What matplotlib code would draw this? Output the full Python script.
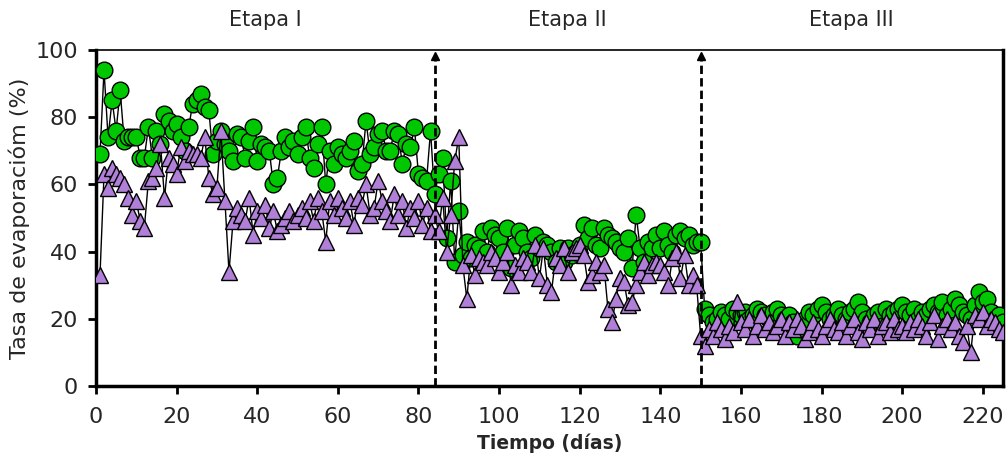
import numpy as np
import matplotlib
matplotlib.use("Agg")
import matplotlib.pyplot as plt

# daily evaporation rate (%), days 1..225
days = np.arange(1, 226)

green = [69, 94, 74, 85, 76, 88, 73, 74, 74, 74,
         68, 68, 77, 68, 76, 72, 81, 79, 76, 78,
         74, 70, 77, 84, 85, 87, 83, 82, 69, 73,
         76, 72, 70, 67, 75, 74, 68, 73, 77, 67,
         72, 71, 70, 60, 62, 70, 74, 71, 73, 69,
         74, 77, 68, 65, 72, 77, 60, 70, 66, 71,
         69, 68, 70, 73, 64, 66, 79, 69, 71, 75,
         76, 70, 70, 76, 75, 66, 72, 71, 77, 63,
         62, 61, 76, 57, 63, 68, 44, 61, 37, 52,
         39, 43, 38, 42, 41, 46, 40, 47, 45, 44,
         40, 47, 35, 42, 46, 44, 40, 38, 45, 41,
         43, 42, 40, 37, 41, 37, 41, 39, 40, 42,
         48, 44, 47, 42, 41, 47, 45, 44, 43, 41,
         40, 44, 35, 51, 41, 37, 43, 41, 45, 41,
         46, 42, 40, 45, 46, 44, 45, 42, 43, 43,
         23, 21, 19, 20, 22, 21, 20, 23, 22, 21,
         22, 20, 21, 23, 22, 21, 20, 22, 23, 21,
         20, 21, 19, 15, 17, 20, 22, 21, 23, 24,
         22, 20, 21, 23, 21, 20, 22, 23, 25, 22,
         20, 19, 21, 22, 18, 23, 21, 22, 23, 24,
         22, 21, 23, 20, 22, 21, 23, 24, 22, 25,
         21, 23, 26, 24, 22, 21, 20, 24, 28, 25,
         26, 22, 20, 21, 19]

purple = [33, 63, 59, 65, 63, 62, 60, 56, 51, 55,
          49, 47, 61, 62, 65, 72, 56, 68, 66, 63,
          71, 67, 70, 69, 69, 68, 74, 62, 57, 59,
          76, 55, 34, 49, 53, 51, 49, 56, 45, 52,
          50, 54, 47, 52, 46, 48, 50, 52, 49, 51,
          53, 50, 55, 49, 56, 52, 43, 55, 51, 56,
          53, 50, 55, 48, 56, 54, 60, 51, 53, 61,
          55, 52, 49, 57, 51, 55, 47, 53, 50, 55,
          48, 53, 46, 51, 46, 56, 40, 51, 67, 74,
          36, 26, 39, 33, 38, 37, 36, 40, 38, 34,
          37, 40, 30, 36, 34, 38, 37, 34, 42, 32,
          41, 30, 28, 38, 36, 41, 34, 40, 41, 42,
          39, 31, 33, 37, 34, 36, 23, 19, 26, 32,
          31, 24, 25, 30, 34, 37, 33, 36, 37, 36,
          34, 30, 38, 40, 32, 39, 30, 33, 30, 15,
          12, 17, 15, 19, 17, 14, 18, 16, 25, 19,
          17, 20, 15, 18, 21, 17, 19, 16, 18, 20,
          15, 19, 17, 20, 18, 14, 16, 19, 17, 15,
          18, 20, 17, 16, 19, 15, 18, 20, 16, 14,
          19, 17, 20, 15, 18, 19, 16, 20, 17, 18,
          16, 19, 17, 20, 18, 15, 19, 21, 14, 18,
          20, 17, 19, 15, 13, 18, 10, 21, 20, 22,
          18, 20, 19, 17, 16]

stage_bounds = [84, 150]
stage_names = ["Etapa I", "Etapa II", "Etapa III"]
stage_centers = [42, 117, 187.5]

plt.rcParams['font.family'] = ['DejaVu Sans']
txt = '#262626'

fig = plt.figure(figsize=(10.08, 4.63), dpi=100)
ax = fig.add_axes([0.0952, 0.1663, 0.8998, 0.7257])

ax.plot(days, green, color='black', lw=1, marker='o', ms=12,
        mfc='#00C800', mec='black', mew=1, zorder=3)
ax.plot(days, purple, color='black', lw=1, marker='^', ms=12,
        mfc='#B07FD8', mec='black', mew=1, zorder=4)

for xb in stage_bounds:
    ax.plot([xb, xb], [0, 98], color='black', lw=2, ls=(0, (3, 1.5)), zorder=5)
    ax.plot([xb], [98.3], marker='^', color='black', ms=6, zorder=5)

for xc, name in zip(stage_centers, stage_names):
    ax.text(xc, 109, name, ha='center', va='center', fontsize=15, color=txt)

ax.set_xlim(0, 225)
ax.set_ylim(0, 100)
ax.set_xticks(np.arange(0, 221, 20))
ax.set_yticks(np.arange(0, 101, 20))
ax.tick_params(axis='both', direction='out', length=6, width=2,
               labelsize=16, pad=7, labelcolor=txt)
ax.tick_params(axis='x', pad=9)

for s in ['left', 'bottom', 'right']:
    ax.spines[s].set_linewidth(2.5)
ax.spines['top'].set_linewidth(1.2)

ax.set_xlabel('Tiempo (días)', fontsize=13.5, fontweight='bold', labelpad=5,
              color=txt)
ax.set_ylabel('Tasa de evaporacióm (%)', fontsize=16, labelpad=4, color=txt)

fig.savefig('out.png', dpi=100)
